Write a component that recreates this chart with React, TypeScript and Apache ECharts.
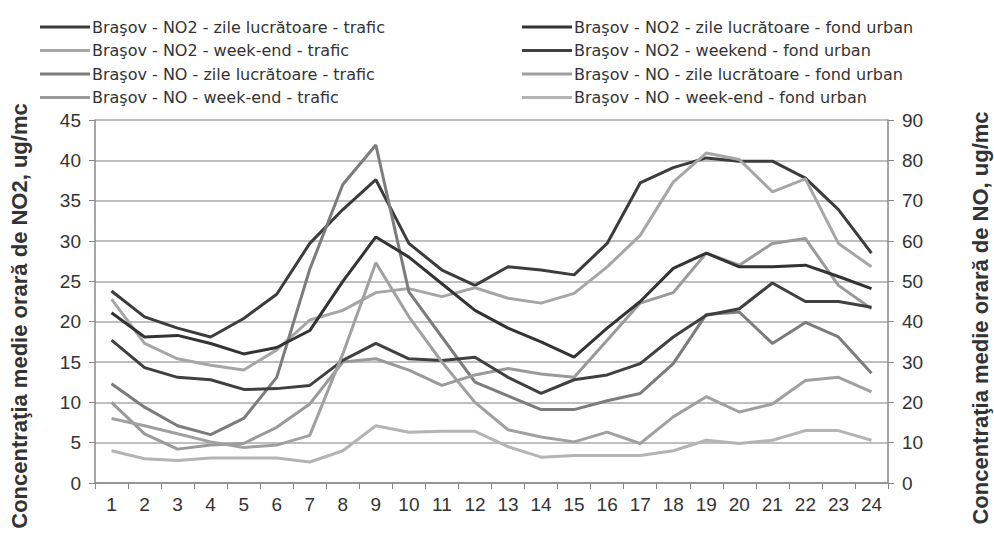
import React, { useEffect, useRef } from "react";
import * as echarts from "echarts";

const hours = ["1","2","3","4","5","6","7","8","9","10","11","12","13","14","15","16","17","18","19","20","21","22","23","24"];

// NO2 series (left axis, ug/mc)
const no2ZileTrafic = [23.8,20.6,19.2,18.1,20.4,23.4,29.7,33.9,37.6,29.7,26.4,24.5,26.8,26.4,25.8,29.7,37.2,39.1,40.3,39.9,39.9,37.8,33.9,28.5];
const no2WeekendTrafic = [22.8,17.3,15.4,14.6,14.0,16.5,20.2,21.4,23.6,24.1,23.1,24.2,22.9,22.3,23.5,26.8,30.7,37.3,40.9,40.1,36.1,37.7,29.7,26.8];
const no2ZileFond = [21.1,18.1,18.3,17.3,16.0,16.8,18.9,25.0,30.5,28.0,24.7,21.4,19.2,17.5,15.6,19.2,22.5,26.6,28.5,26.8,26.8,27.0,25.6,24.1];
const no2WeekendFond = [17.7,14.3,13.1,12.8,11.6,11.7,12.1,15.2,17.3,15.4,15.2,15.6,13.1,11.1,12.8,13.4,14.8,18.1,20.8,21.6,24.8,22.5,22.5,21.8];

// NO series (right axis, ug/mc)
const noZileTrafic = [24.6,18.8,14.2,12.0,16.0,26.2,53.0,74.0,83.8,47.4,36.2,25.0,21.6,18.2,18.2,20.4,22.2,29.6,41.8,42.4,34.6,39.8,36.2,27.2];
const noWeekendTrafic = [20.0,12.2,8.4,9.4,9.8,13.8,19.6,30.0,30.8,28.0,24.2,26.8,28.4,27.0,26.2,35.4,44.6,47.2,57.0,54.0,59.4,60.6,49.0,43.2];
const noZileFond = [16.0,14.2,12.2,10.2,8.8,9.4,11.8,32.0,54.6,41.2,30.0,20.0,13.2,11.4,10.2,12.6,9.8,16.4,21.4,17.6,19.6,25.4,26.2,22.6];
const noWeekendFond = [8.0,6.0,5.6,6.2,6.2,6.2,5.2,8.0,14.2,12.6,12.8,12.8,9.0,6.4,6.8,6.8,6.8,8.0,10.6,9.8,10.6,13.0,13.0,10.6];

const leftTicks = { min: 0, max: 45, interval: 5 };
const rightTicks = { min: 0, max: 90, interval: 10 };

const leftAxisTitle = "Concentraţia medie orară de NO2, ug/mc";
const rightAxisTitle = "Concentraţia medie orară de NO, ug/mc";

const names = {
  a: "Braşov - NO2 - zile lucrătoare - trafic",
  b: "Braşov - NO2 - week-end - trafic",
  c: "Braşov - NO - zile lucrătoare - trafic",
  d: "Braşov - NO - week-end - trafic",
  e: "Braşov - NO2 - zile lucrătoare - fond urban",
  f: "Braşov - NO2 - weekend - fond urban",
  g: "Braşov - NO - zile lucrătoare - fond urban",
  h: "Braşov - NO - week-end - fond urban",
};

export default function App() {
  const ref = useRef<HTMLDivElement>(null);
  useEffect(() => {
    if (!ref.current) return;
    const chart = echarts.init(ref.current, undefined, { renderer: "svg" });
    const font = "'Liberation Sans', Arial, sans-serif";
    const wide = "'DejaVu Sans', Verdana, sans-serif";
    const mk = (name: string, data: number[], color: string, axis: number, width = 3) => ({
      name,
      type: "line",
      data,
      yAxisIndex: axis,
      symbol: "none",
      lineStyle: { color, width },
      itemStyle: { color },
      z: 3,
    });
    const legendBase = {
      top: 14,
      orient: "vertical",
      icon: "rect",
      itemHeight: 3,
      itemGap: 7.5,
      textStyle: { fontSize: 16, color: "#333", fontFamily: wide, padding: [0, 0, 0, -3] },
    };
    chart.setOption({
      animation: false,
      backgroundColor: "#ffffff",
      textStyle: { fontFamily: font },
      legend: [
        { ...legendBase, left: 35, itemWidth: 50, data: [names.a, names.b, names.c, names.d] },
        { ...legendBase, left: 517, itemWidth: 50, data: [names.e, names.f, names.g, names.h] },
      ],
      grid: { left: 95, right: 106, top: 120, bottom: 52, containLabel: false },
      xAxis: {
        type: "category",
        data: hours,
        boundaryGap: true,
        axisLine: { lineStyle: { color: "#888", width: 1.5 } },
        axisTick: { show: true, length: 6, lineStyle: { color: "#888" } },
        axisLabel: { fontSize: 19, color: "#333", margin: 12, interval: 0, fontFamily: font },
      },
      yAxis: [
        {
          type: "value",
          ...leftTicks,
          position: "left",
          axisLine: { show: true, lineStyle: { color: "#888", width: 1.5 } },
          axisTick: { show: true, length: 6, lineStyle: { color: "#888" } },
          axisLabel: { fontSize: 19, color: "#333", margin: 14, fontFamily: font },
          splitLine: { show: true, lineStyle: { color: "#aaa", width: 1.5 } },
        },
        {
          type: "value",
          ...rightTicks,
          position: "right",
          axisLine: { show: true, lineStyle: { color: "#888", width: 1.5 } },
          axisTick: { show: true, length: 6, lineStyle: { color: "#888" } },
          axisLabel: { fontSize: 19, color: "#333", margin: 14, fontFamily: font },
          splitLine: { show: false },
        },
      ],
      graphic: [
        {
          type: "text",
          x: 19,
          y: 316,
          rotation: Math.PI / 2,
          style: {
            text: leftAxisTitle,
            font: "bold 22px " + font,
            fill: "#333",
            align: "center",
            verticalAlign: "middle",
          },
        },
        {
          type: "text",
          x: 980,
          y: 318,
          rotation: Math.PI / 2,
          style: {
            text: rightAxisTitle,
            font: "bold 22px " + font,
            fill: "#333",
            align: "center",
            verticalAlign: "middle",
          },
        },
      ],
      series: [
        mk(names.a, no2ZileTrafic, "#3c3c3c", 0),
        mk(names.b, no2WeekendTrafic, "#a6a6a6", 0),
        mk(names.c, noZileTrafic, "#7c7c7c", 1),
        mk(names.d, noWeekendTrafic, "#9a9a9a", 1),
        mk(names.e, no2ZileFond, "#333333", 0),
        mk(names.f, no2WeekendFond, "#404040", 0),
        mk(names.g, noZileFond, "#a0a0a0", 1),
        mk(names.h, noWeekendFond, "#b4b4b4", 1),
      ],
    });
    return () => chart.dispose();
  }, []);
  return <div ref={ref} style={{ position: "fixed", left: 0, top: 0, width: 994, height: 535 }} />;
}
